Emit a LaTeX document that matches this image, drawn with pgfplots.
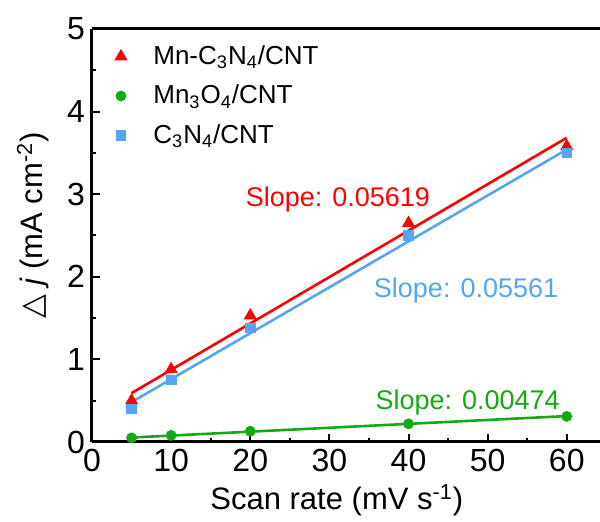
\documentclass[border=0pt]{standalone}
\usepackage{fontspec}
\setmainfont{Liberation Sans}
\newfontfamily\dejavu{DejaVu Sans}
\usepackage{pgfplots}
\pgfplotsset{compat=1.18}

\definecolor{cred}{RGB}{255,0,0}
\definecolor{cgreen}{RGB}{20,170,20}
\definecolor{cblue}{RGB}{85,165,245}

\begin{document}
\begin{tikzpicture}
\begin{axis}[
  name=ax,
  scale only axis,
  width=254pt, height=206.5pt,
  xmin=0, xmax=64.2, ymin=0, ymax=5,
  axis x line*=box, axis y line*=left,
  xtick pos=left, ytick pos=left,
  xtick={0,10,...,60}, ytick={0,1,...,5},
  minor x tick num=1, minor y tick num=1,
  tick align=inside,
  major tick length=4pt, minor tick length=2pt,
  every tick/.style={black, line width=1pt},
  axis line style={line width=1.5pt},
  /pgf/number format/assume math mode=true,
  tick label style={font=\fontsize{16}{18}\selectfont},
  xlabel={Scan rate (mV s\textsuperscript{-1})},
  ylabel={{\dejavu △} \textit{j} (mA cm\textsuperscript{-2})},
  xlabel style={at={(axis description cs:0.482,0)}, anchor=base, yshift=-34pt, font=\fontsize{15.5}{17}\selectfont},
  ylabel style={at={(axis description cs:-0.116,0.525)}, anchor=center, rotate=0, font=\fontsize{15.5}{17}\selectfont},
  legend style={draw=none, fill=none, at={(axis description cs:0.02,0.98)}, anchor=north west,
    font=\fontsize{13}{15}\selectfont, row sep=4.8pt},
  legend image code/.code={\path (0pt,0pt) (20pt,0pt); \draw[#1] plot coordinates {(6pt,0pt)};},
  legend cell align=left,
  clip=false,
]
\addplot[only marks, mark=triangle*, mark size=3.4pt, color=cred] coordinates {(5,0.50)(10,0.88)(20,1.53)(40,2.65)(60,3.58)};
\addlegendentry{Mn-C\textsubscript{3}N\textsubscript{4}/CNT}
\addplot[only marks, mark=*, mark size=2.5pt, color=cgreen] coordinates {(5,0.05)(10,0.08)(20,0.13)(40,0.22)(60,0.31)};
\addlegendentry{Mn\textsubscript{3}O\textsubscript{4}/CNT}
\addplot[only marks, mark=square*, mark size=2.4pt, color=cblue] coordinates {(5,0.40)(10,0.75)(20,1.38)(40,2.50)(60,3.50)};
\addlegendentry{C\textsubscript{3}N\textsubscript{4}/CNT}

\addplot[cred, line width=1.3pt, forget plot] coordinates {(5,0.592)(60,3.683)};
\addplot[cgreen, line width=1.3pt, forget plot] coordinates {(5,0.054)(60,0.314)};
\addplot[cblue, line width=1.3pt, forget plot] coordinates {(5,0.483)(60,3.541)};

\node[anchor=east, text=cred, font=\fontsize{13.5}{15}\selectfont] at (axis cs:43.6,2.93) {Slope: 0.05619};
\node[anchor=east, text=cblue, font=\fontsize{13.5}{15}\selectfont] at (axis cs:59.8,1.83) {Slope: 0.05561};
\node[anchor=east, text=cgreen, font=\fontsize{13.5}{15}\selectfont] at (axis cs:60,0.48) {Slope: 0.00474};
\end{axis}
\pgfresetboundingbox
\useasboundingbox ([shift={(-46pt,-40pt)}]ax.south west) rectangle ([shift={(0pt,14.5pt)}]ax.north east);
\end{tikzpicture}
\end{document}
